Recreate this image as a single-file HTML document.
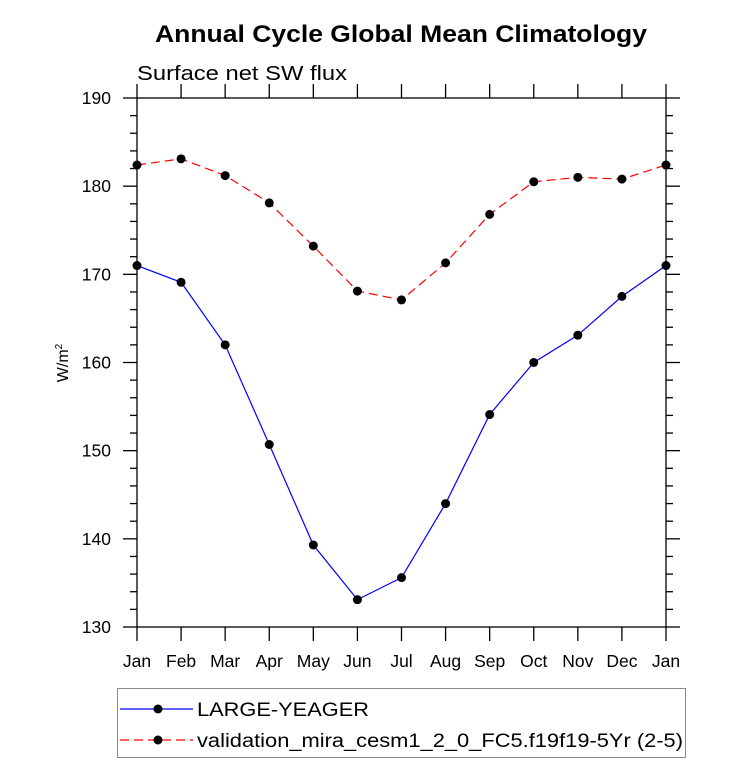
<!DOCTYPE html>
<html><head><meta charset="utf-8"><style>
body{margin:0;background:#fff;}
svg{display:block;font-family:"Liberation Sans",Arial,sans-serif;}
</style></head><body>
<svg id="chart" width="733" height="780">
<text x="401" y="42" text-anchor="middle" font-size="24" font-weight="bold" textLength="492" lengthAdjust="spacingAndGlyphs">Annual Cycle Global Mean Climatology</text>
<text x="137" y="80" font-size="20" textLength="210" lengthAdjust="spacingAndGlyphs">Surface net SW flux</text>
<text transform="translate(68,363) rotate(-90)" text-anchor="middle" font-size="16">W/m<tspan dy="-6" font-size="10">2</tspan></text>
<g id="axes"></g>
<g id="series"></g>
<g>
<rect x="117.5" y="688.5" width="568" height="69" fill="none" stroke="#888" stroke-width="1"/>
<line x1="120" y1="709" x2="193" y2="709" stroke="#0000ff" stroke-width="1.2"/>
<circle cx="158" cy="709" r="4.5" fill="#000"/>
<text x="197" y="716" font-size="19" textLength="172" lengthAdjust="spacingAndGlyphs">LARGE-YEAGER</text>
<line x1="120" y1="740" x2="193" y2="740" stroke="#ff0000" stroke-width="1.2" stroke-dasharray="9,5"/>
<circle cx="158" cy="740" r="4.5" fill="#000"/>
<text x="197" y="747" font-size="19" textLength="486" lengthAdjust="spacingAndGlyphs">validation_mira_cesm1_2_0_FC5.f19f19-5Yr (2-5)</text>
</g>
</svg>
<script>
const months = ["Jan","Feb","Mar","Apr","May","Jun","Jul","Aug","Sep","Oct","Nov","Dec","Jan"];
const largeYeager = [171.0,169.1,162.0,150.7,139.3,133.1,135.6,144.0,154.1,160.0,163.1,167.5,171.0];
const validation = [182.4,183.1,181.2,178.1,173.2,168.1,167.1,171.3,176.8,180.5,181.0,180.8,182.4];
const yTicks = [130,140,150,160,170,180,190];

const NS="http://www.w3.org/2000/svg";
const X0=137,X1=666,Y0=627,Y1=98,YMIN=130,YMAX=190;
const xs=i=>X0+(X1-X0)*i/(months.length-1);
const ys=v=>Y0-(v-YMIN)/(YMAX-YMIN)*(Y0-Y1);
function mk(t,a,p){const e=document.createElementNS(NS,t);for(const k in a)e.setAttribute(k,a[k]);p.appendChild(e);return e;}
const ax=document.getElementById('axes');
const frame=mk('rect',{x:X0,y:Y1,width:X1-X0,height:Y0-Y1,fill:'none',stroke:'#000','stroke-width':1.3},ax);


months.forEach((m,i)=>{
  const x=xs(i);
  mk('line',{x1:x,y1:Y0,x2:x,y2:Y0+14,stroke:'#000','stroke-width':1.3},ax);
  mk('line',{x1:x,y1:Y1,x2:x,y2:Y1-14,stroke:'#000','stroke-width':1.3},ax);
  const t=mk('text',{x:x,y:Y0+40,'text-anchor':'middle','font-size':17.5},ax);
  t.textContent=m;
  
  
});
for(let v=YMIN;v<=YMAX;v+=2){
  const y=ys(v),maj=(v%10===0),L=maj?14:7;
  mk('line',{x1:X0-L,y1:y,x2:X0,y2:y,stroke:'#000','stroke-width':1.3},ax);
  mk('line',{x1:X1,y1:y,x2:X1+L,y2:y,stroke:'#000','stroke-width':1.3},ax);
}
yTicks.forEach(v=>{
  const t=mk('text',{x:X0-26,y:ys(v)+6,'text-anchor':'end','font-size':17.5},ax);
  t.textContent=v;
  
  
});
const sg=document.getElementById('series');
function series(data,color,dash,name){
  const pts=data.map((v,i)=>xs(i)+','+ys(v)).join(' ');
  const pl=mk('polyline',{points:pts,fill:'none',stroke:color,'stroke-width':1.2},sg);
  if(dash)pl.setAttribute('stroke-dasharray',dash);
  
  
  data.forEach((v,i)=>{
    const c=mk('circle',{cx:xs(i),cy:ys(v),r:4.5,fill:'#000'},sg);
    
    
  });
}
series(validation,'#ff0000','9,5','validation');
series(largeYeager,'#0000ff',null,'large-yeager');
</script>
</body></html>
